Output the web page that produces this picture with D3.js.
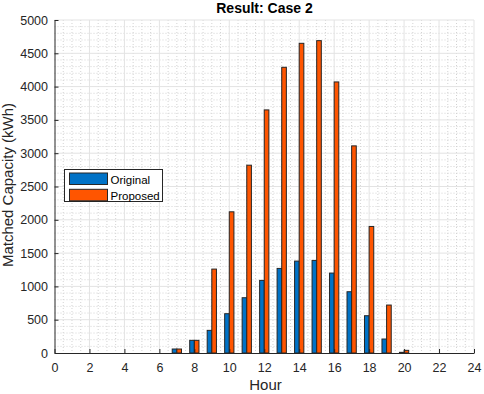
<!DOCTYPE html>
<html><head><meta charset="utf-8">
<script src="https://cdn.jsdelivr.net/npm/d3@7"></script>
<style>body{margin:0;background:#fff}svg{display:block;font-family:"Liberation Sans",Arial,Helvetica,sans-serif}</style>
</head><body><svg id="c" width="484" height="394"></svg>
<script>
const hours = [7,8,9,10,11,12,13,14,15,16,17,18,19,20];
const original = [60,190,340,590,830,1090,1270,1380,1390,1200,920,560,210,10];
const proposed = [60,190,1260,2120,2820,3650,4290,4650,4690,4070,3110,1900,720,40];
const xTicks = d3.range(0,25,2);
const yTicks = d3.range(0,5001,500);
const seriesNames = ["Original","Proposed"];
const colors = ["#0072C6","#FF5500"];

const svg = d3.select("#c");
const m = {l:54.5,r:474,t:20,b:353};
const x = d3.scaleLinear().domain([0,24]).range([m.l,m.r]);
const y = d3.scaleLinear().domain([0,5000]).range([m.b,m.t]);

// minor grid (dotted)
const g = svg.append("g");
g.selectAll(".mx").data(d3.range(0.5,24,0.5).filter(v=>v%2!==0)).join("line")
 .attr("x1",d=>x(d)).attr("x2",d=>x(d)).attr("y1",m.t).attr("y2",m.b)
 .attr("stroke","#d3d3d3").attr("stroke-width",1).attr("stroke-dasharray","1,2");
g.selectAll(".my").data(d3.range(100,5000,100).filter(v=>v%500!==0)).join("line")
 .attr("y1",d=>y(d)).attr("y2",d=>y(d)).attr("x1",m.l).attr("x2",m.r)
 .attr("stroke","#d3d3d3").attr("stroke-width",1).attr("stroke-dasharray","1,2");
// major grid
g.selectAll(".gx").data(xTicks.slice(1)).join("line")
 .attr("x1",d=>x(d)).attr("x2",d=>x(d)).attr("y1",m.t).attr("y2",m.b)
 .attr("stroke","#e3e3e3").attr("stroke-width",1);
g.selectAll(".gy").data(yTicks.slice(1)).join("line")
 .attr("y1",d=>y(d)).attr("y2",d=>y(d)).attr("x1",m.l).attr("x2",m.r)
 .attr("stroke","#e3e3e3").attr("stroke-width",1);

// bars
const bw = 0.265;
const series = [original, proposed];
series.forEach((vals,si)=>{
  svg.append("g").selectAll("rect").data(hours.map((h,i)=>({h,v:vals[i]}))).join("rect")
   .attr("x",d=>x(d.h + (si===0 ? -bw : 0)))
   .attr("width",x(bw)-x(0))
   .attr("y",d=>y(d.v))
   .attr("height",d=>y(0)-y(d.v))
   .attr("fill",colors[si]).attr("stroke","#262626").attr("stroke-width",1);
});

// axes
const xa = svg.append("g").attr("transform",`translate(0,${m.b})`)
  .call(d3.axisBottom(x).tickValues(xTicks).tickSizeInner(-4).tickSizeOuter(0).tickPadding(10));
const ya = svg.append("g").attr("transform",`translate(${m.l},0)`)
  .call(d3.axisLeft(y).tickValues(yTicks).tickFormat(d3.format("d")).tickSizeInner(-4).tickSizeOuter(0).tickPadding(6.5));
[xa,ya].forEach(a=>{
  a.selectAll("path,line").attr("stroke","#262626");
  a.selectAll("text").attr("fill","#262626").style("font-size","12.5px");
});

// labels
svg.append("text").attr("x",264.5).attr("y",13).attr("text-anchor","middle")
 .style("font-size","14px").style("font-weight","bold").attr("fill","#000").text("Result: Case 2");
svg.append("text").attr("x",265.5).attr("y",390).attr("text-anchor","middle")
 .style("font-size","15px").attr("fill","#262626").text("Hour");
svg.append("text").attr("transform","translate(12.5,185) rotate(-90)").attr("text-anchor","middle")
 .style("font-size","15px").attr("fill","#262626").text("Matched Capacity (kWh)");

// legend
const lg = svg.append("g");
lg.append("rect").attr("x",64.5).attr("y",169.5).attr("width",98).attr("height",32)
 .attr("fill","#fff").attr("stroke","#262626").attr("stroke-width",1);
seriesNames.forEach((n,i)=>{
  lg.append("rect").attr("x",69.5).attr("y",173+i*16.3).attr("width",38).attr("height",11.5)
   .attr("fill",colors[i]).attr("stroke","#262626").attr("stroke-width",1);
  lg.append("text").attr("x",110.5).attr("y",183.5+i*16.3).style("font-size","11.5px")
   .attr("fill","#000").text(n);
});
</script></body></html>
